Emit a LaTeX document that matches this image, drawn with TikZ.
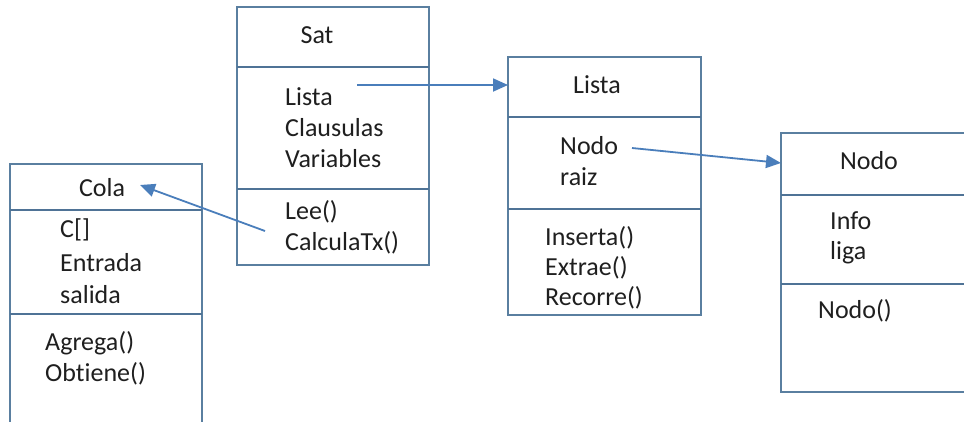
\documentclass[tikz,border=0pt]{standalone}
\usepackage{fontspec}
\setmainfont{Carlito}[Ligatures={NoCommon}]
\usetikzlibrary{arrows.meta}
\definecolor{boxline}{HTML}{5A7FA0}
\definecolor{sepline}{HTML}{4F7396}
\definecolor{arrowblue}{HTML}{4A7EBB}
\begin{document}
\begin{tikzpicture}[x=1pt,y=-1pt,
  classbox/.style={draw=boxline, line width=1.3pt, rectangle, anchor=north west,
    inner sep=0pt, outer sep=0pt},
  sepbar/.style={draw=sepline, line width=2pt},
  lbl/.style={font=\fontsize{26}{31}\selectfont, inner sep=0pt, text=black!88},
  member/.style={lbl, anchor=west},
  assoc/.style={draw=arrowblue, line width=1.8pt,
    -{Triangle[length=15pt,width=13pt]}}]
\useasboundingbox (0,0) rectangle (964,421);
\clip (0,0) rectangle (964,421);
\fill[white] (0,0) rectangle (964,421);

% class boxes
\node[classbox, minimum width=192pt, minimum height=258pt] (sat)   at (237,7)   {};
\node[classbox, minimum width=193pt, minimum height=258pt] (lista) at (508,57)  {};
\node[classbox, minimum width=200pt, minimum height=259pt] (nodo)  at (781,133) {};
\node[classbox, minimum width=192pt, minimum height=270pt] (cola)  at (10,164)  {};

% compartment separators
\draw[sepbar] (sat.west |- 0,67)    -- (sat.east |- 0,67);
\draw[sepbar] (sat.west |- 0,189)   -- (sat.east |- 0,189);
\draw[sepbar] (lista.west |- 0,117) -- (lista.east |- 0,117);
\draw[sepbar] (lista.west |- 0,209) -- (lista.east |- 0,209);
\draw[sepbar] (nodo.west |- 0,195)  -- (nodo.east |- 0,195);
\draw[sepbar] (nodo.west |- 0,284)  -- (nodo.east |- 0,284);
\draw[sepbar] (cola.west |- 0,210)  -- (cola.east |- 0,210);
\draw[sepbar] (cola.west |- 0,314)  -- (cola.east |- 0,314);

% Sat
\node[lbl] (satT) at (317,35) {Sat};
\node[member] (satA1) at (285,97)  {Lista};
\node[member] (satA2) at (285,128) {Clausulas};
\node[member] (satA3) at (285,159) {Variables};
\node[member] (satM1) at (285,212) {Lee()};
\node[member] (satM2) at (285,243) {CalculaTx()};

% Lista
\node[lbl] (listaT) at (597,85) {Lista};
\node[member] (listaA1) at (560,146) {Nodo};
\node[member] (listaA2) at (560,177) {raiz};
\node[member] (listaM1) at (545,238) {Inserta()};
\node[member] (listaM2) at (545,268) {Extrae()};
\node[member] (listaM3) at (545,298) {Recorre()};

% Nodo
\node[lbl] (nodoT) at (869,161) {Nodo};
\node[member] (nodoA1) at (830,221) {Info};
\node[member] (nodoA2) at (830,253) {liga};
\node[member] (nodoM1) at (818,311) {Nodo()};

% Cola
\node[lbl] (colaT) at (102,188) {Cola};
\node[member] (colaA1) at (60,230) {C[]};
\node[member] (colaA2) at (60,263) {Entrada};
\node[member] (colaA3) at (60,295) {salida};
\node[member] (colaM1) at (45,343) {Agrega()};
\node[member] (colaM2) at (45,374) {Obtiene()};

% associations
\coordinate (satOut)   at (357,85);
\coordinate (listaOut) at (632,148);
\coordinate (nodoIn)   at (781,163);
\coordinate (leeOut)   at (265,231);
\coordinate (colaIn)   at (140,185);
\draw[assoc] (satOut) -- (satOut -| lista.west);
\draw[assoc] (listaOut) -- (nodoIn);
\draw[assoc] (leeOut) -- (colaIn);
\end{tikzpicture}
\end{document}
